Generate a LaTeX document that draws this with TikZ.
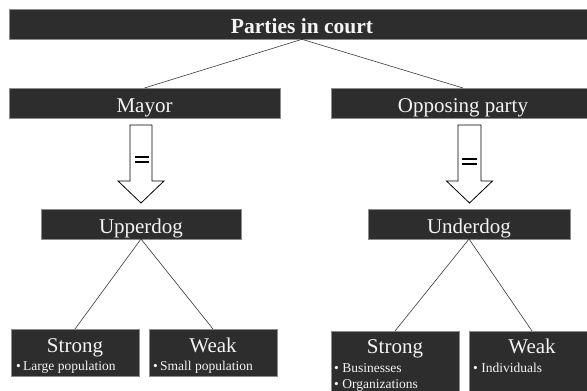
\documentclass[tikz,border=0pt]{standalone}
\usepackage{fontspec}
\setmainfont{Liberation Serif}
\definecolor{boxfill}{HTML}{2D2D2D}
\definecolor{boxedge}{HTML}{8C8C8C}
\definecolor{boxtext}{HTML}{F4F4F4}
\definecolor{linegray}{HTML}{3A3A3A}
\begin{document}
\begin{tikzpicture}[x=1pt,y=-1pt,
  box/.style={draw=boxedge, line width=0.5pt, fill=boxfill, inner sep=0pt, outer sep=0pt},
  lbl/.style={text=boxtext, anchor=base, inner sep=0pt, font=\fontsize{21}{21}\selectfont},
  bul/.style={text=boxtext, anchor=base west, inner sep=0pt, font=\fontsize{13.5}{13.5}\selectfont},
  link/.style={draw=linegray, line width=0.6pt},
  bigarrow/.style={draw=black, fill=white, line width=0.8pt, line join=miter},
  eqbar/.style={draw=black, line width=2pt}]
\useasboundingbox (0,0) rectangle (587,391);
\clip (0,0) rectangle (587,391);
\fill[white] (0,0) rectangle (587,391);
% boxes
\node[box, minimum width=586pt, minimum height=30pt] (title) at (302,24.3) {};
\node[lbl, font=\bfseries\fontsize{21.5}{21.5}\selectfont] (titletext) at (302,33) {Parties in court};
\node[box, minimum width=271pt, minimum height=30pt] (mayor) at (144.5,103) {};
\node[lbl] (mayortext) at (144.5,112) {Mayor};
\node[box, minimum width=264pt, minimum height=30pt] (opp) at (463,103) {};
\node[lbl] (opptext) at (463,112) {Opposing party};
\node[box, minimum width=200pt, minimum height=30pt] (upper) at (141,224) {};
\node[lbl] (uppertext) at (141,233) {Upperdog};
\node[box, minimum width=202pt, minimum height=30pt] (under) at (469,224) {};
\node[lbl] (undertext) at (469,233) {Underdog};
\node[box, minimum width=128pt, minimum height=47pt] (ls) at (75,352.5) {};
\node[lbl] (lstext) at (75,352) {Strong};
\node[bul] (lsb) at (16,370) {•\,Large population};
\node[box, minimum width=128pt, minimum height=47pt] (lw) at (213,352.5) {};
\node[lbl] (lwtext) at (213,352) {Weak};
\node[bul] (lwb) at (153,370) {•\,Small population};
\node[box, minimum width=128pt, minimum height=70pt] (rs) at (395,366) {};
\node[lbl] (rstext) at (395,353) {Strong};
\node[bul] (rsb1) at (334,372) {•~Businesses};
\node[bul] (rsb2) at (334,388) {•~Organizations};
\node[box, minimum width=126pt, minimum height=70pt] (rw) at (532,366) {};
\node[lbl] (rwtext) at (532,353) {Weak};
\node[bul] (rwb) at (473,372) {•~Individuals};
% links
\draw[link] (title.south) -- (mayor.north);
\draw[link] (title.south) -- (opp.north);
\draw[link] (upper.south) -- (ls.north);
\draw[link] (upper.south) -- (lw.north);
\draw[link] (under.south) -- (rs.north);
\draw[link] (under.south) -- (rw.north);
% hollow arrows
\draw[bigarrow] (130,125) -- (152,125) -- (152,181) -- (164,181) -- (141,203) -- (118,181) -- (130,181) -- cycle;
\draw[eqbar] (135,157) -- (149,157) (135,162) -- (149,162);
\draw[bigarrow] (458,125) -- (481,125) -- (481,181) -- (492.5,181) -- (469.5,203) -- (446.5,181) -- (458,181) -- cycle;
\draw[eqbar] (462,159) -- (477,159) (462,164) -- (477,164);
\end{tikzpicture}
\end{document}
